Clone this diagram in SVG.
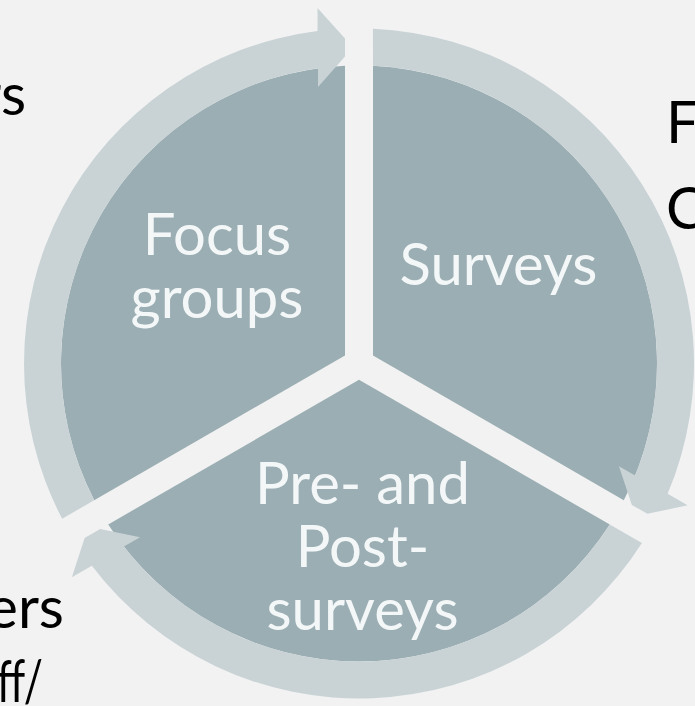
<svg xmlns="http://www.w3.org/2000/svg" width="695" height="706" viewBox="0 0 695 706">
  <defs>
    <style>
      .bg { fill: #f2f2f2; }
      .sector { fill: #9baeb3; }
      .ring { fill: #c9d3d6; }
      .label { font-family: Lato, "Open Sans", "Noto Sans", sans-serif; font-size: 58px; fill: #f4f7f8; text-anchor: middle; }
      .side { font-family: Lato, "Open Sans", "Noto Sans", sans-serif; font-size: 58px; fill: #000000; }
    </style>
    <!-- one third of the cycle, drawn around the origin for the 150deg..270deg slot -->
    <path id="wedge" d="M -14,-8.08 L -264.81,136.69 A 298 298 0 0 1 -14,-297.67 Z"/>
    <path id="arc-arrow" d="M -264.81,136.69 L -296.82,155.32 A 335 335 0 0 1 -41.5,-332.42 L -41.5,-355.5 L -14,-324.9 L -14,-307 L -41,-276.5 L -41,-295.17 A 298 298 0 0 0 -264.81,136.69 Z"/>
  </defs>

  <rect class="bg" x="0" y="0" width="695" height="706"/>

  <!-- text running off the page edges -->
  <g id="side-text">
    <text class="side" x="26" y="115" text-anchor="end">rs</text>
    <text class="side" x="666" y="143">F</text>
    <text class="side" x="666" y="229">C</text>
    <text class="side" x="64" y="628" text-anchor="end">ers</text>
    <text class="side" x="-3" y="702" textLength="46" lengthAdjust="spacingAndGlyphs">ff/</text>
  </g>

  <g id="node-focus-groups">
    <use href="#wedge" class="sector" transform="translate(359 363.5)"/>
    <text class="label" x="217" y="255">Focus</text>
    <text class="label" x="217" y="318">groups</text>
  </g>

  <g id="node-surveys">
    <use href="#wedge" class="sector" transform="translate(359 363.5) rotate(120)"/>
    <text class="label" x="498.5" y="285">Surveys</text>
  </g>

  <g id="node-pre-post-surveys">
    <use href="#wedge" class="sector" transform="translate(359 363.5) rotate(240)"/>
    <text class="label" x="362.5" y="504">Pre- and</text>
    <text class="label" x="362.5" y="567">Post-</text>
    <text class="label" x="362.5" y="630">surveys</text>
  </g>

  <!-- curved arrows around the rim -->
  <g id="connectors">
    <use href="#arc-arrow" class="ring" transform="translate(359 363.5)"/>
    <use href="#arc-arrow" class="ring" transform="translate(359 363.5) rotate(120)"/>
    <use href="#arc-arrow" class="ring" transform="translate(359 363.5) rotate(240)"/>
  </g>
</svg>
